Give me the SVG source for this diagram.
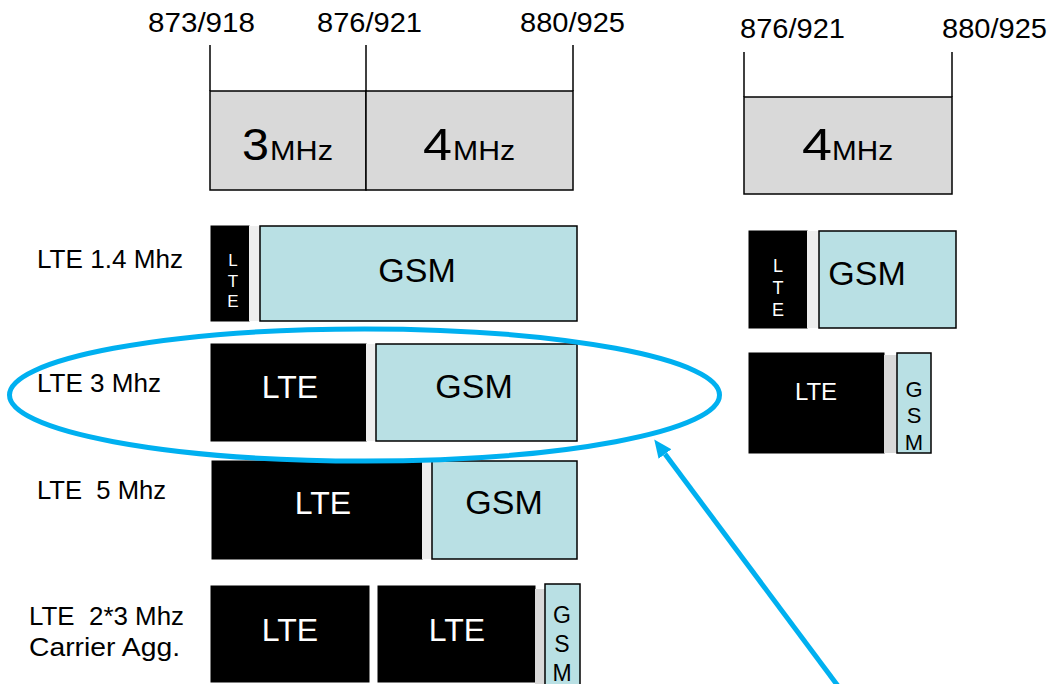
<svg xmlns="http://www.w3.org/2000/svg" width="1051" height="684" viewBox="0 0 1051 684">
<style>
text{font-family:"Liberation Sans",Arial,sans-serif;fill:#000}
.lbl{font-size:25px}
.freq{font-size:27px}
.band{fill:#d9d9d9;stroke:#000;stroke-width:1.5}
.tick{stroke:#000;stroke-width:1.5;fill:none}
.lte{fill:#000;stroke:#000;stroke-width:1}
.gsm{fill:#b9e0e4;stroke:#000;stroke-width:1.5}
.gap{fill:#eeeeee}
.gap2{fill:#d9d9d9}
.w{fill:#fff}
.big{font-size:34px}
.mid{font-size:32px}
.c{text-anchor:middle}
</style>
<defs>
<marker id="ah" markerUnits="userSpaceOnUse" markerWidth="20" markerHeight="18" refX="0" refY="8" orient="auto">
<path d="M0,0 L18,8 L0,16 z" fill="#00b0f0"/>
</marker>
</defs>
<rect width="1051" height="684" fill="#fff"/>

<g id="band-left">
<line class="tick" x1="210" y1="45" x2="210" y2="91"/>
<line class="tick" x1="366" y1="45" x2="366" y2="91"/>
<line class="tick" x1="573" y1="45" x2="573" y2="91"/>
<rect class="band" x="210" y="91" width="156" height="99"/>
<rect class="band" x="366" y="91" width="207" height="99"/>
<text class="freq" x="148" y="32" textLength="107" lengthAdjust="spacingAndGlyphs">873/918</text>
<text class="freq" x="317" y="32" textLength="105" lengthAdjust="spacingAndGlyphs">876/921</text>
<text class="freq" x="520" y="32" textLength="105" lengthAdjust="spacingAndGlyphs">880/925</text>
<text x="242" y="160" font-size="45" textLength="27" lengthAdjust="spacingAndGlyphs">3</text>
<text x="270" y="160" font-size="27" textLength="63" lengthAdjust="spacingAndGlyphs">MHz</text>
<text x="423" y="160" font-size="45" textLength="29" lengthAdjust="spacingAndGlyphs">4</text>
<text x="453" y="160" font-size="27" textLength="62" lengthAdjust="spacingAndGlyphs">MHz</text>
</g>

<g id="band-right">
<line class="tick" x1="744" y1="52" x2="744" y2="97"/>
<line class="tick" x1="952" y1="52" x2="952" y2="97"/>
<rect class="band" x="744" y="97" width="208" height="97"/>
<text class="freq" x="740" y="38" textLength="105" lengthAdjust="spacingAndGlyphs">876/921</text>
<text class="freq" x="942" y="38" textLength="105" lengthAdjust="spacingAndGlyphs">880/925</text>
<text x="802" y="160" font-size="45" textLength="30" lengthAdjust="spacingAndGlyphs">4</text>
<text x="832" y="160" font-size="27" textLength="61" lengthAdjust="spacingAndGlyphs">MHz</text>
</g>

<g id="row-lte14">
<text class="lbl" x="37" y="268" textLength="146" lengthAdjust="spacingAndGlyphs">LTE 1.4 Mhz</text>
<rect class="lte" x="211" y="226" width="38" height="95"/>
<rect class="gap" x="249" y="226" width="11" height="95"/>
<rect class="gsm" x="260" y="226" width="317" height="95"/>
<text class="w c" x="233" y="266" font-size="17">L</text>
<text class="w c" x="233" y="287" font-size="17">T</text>
<text class="w c" x="233" y="307" font-size="17">E</text>
<text class="big c" x="417" y="282">GSM</text>
</g>

<g id="row-lte3">
<text class="lbl" x="37" y="392" textLength="124" lengthAdjust="spacingAndGlyphs">LTE 3 Mhz</text>
<rect class="lte" x="211" y="344" width="155" height="97"/>
<rect class="gap" x="366" y="344" width="10" height="97"/>
<rect class="gsm" x="376" y="344" width="201" height="97"/>
<text class="w mid c" x="290" y="398">LTE</text>
<text class="big c" x="474" y="398">GSM</text>
</g>

<g id="row-lte5">
<text class="lbl" x="37" y="499" xml:space="preserve" textLength="129" lengthAdjust="spacingAndGlyphs">LTE  5 Mhz</text>
<rect class="lte" x="212" y="461" width="210" height="98"/>
<rect class="gap" x="422" y="461" width="10" height="98"/>
<rect class="gsm" x="432" y="461" width="145" height="98"/>
<text class="w mid c" x="323" y="514">LTE</text>
<text class="big c" x="504" y="514">GSM</text>
</g>

<g id="row-lte2x3">
<text class="lbl" x="29" y="625" xml:space="preserve" textLength="155" lengthAdjust="spacingAndGlyphs">LTE  2*3 Mhz</text>
<text class="lbl" x="29" y="656" textLength="151" lengthAdjust="spacingAndGlyphs">Carrier Agg.</text>
<rect class="lte" x="211" y="586" width="158" height="96"/>
<rect class="lte" x="378" y="586" width="157" height="96"/>
<rect class="gap2" x="535" y="589" width="10" height="95"/>
<rect class="gsm" x="545" y="584" width="35" height="102"/>
<text class="w mid c" x="290" y="641">LTE</text>
<text class="w mid c" x="457" y="641">LTE</text>
<text class="c" x="562" y="623" font-size="23">G</text>
<text class="c" x="562" y="652" font-size="23">S</text>
<text class="c" x="562" y="681" font-size="23">M</text>
</g>

<g id="right-lte14">
<rect class="lte" x="749" y="231" width="58" height="97"/>
<rect class="gap" x="807" y="231" width="12" height="97"/>
<rect class="gsm" x="819" y="231" width="137" height="97"/>
<text class="w c" x="778" y="272" font-size="18">L</text>
<text class="w c" x="778" y="294" font-size="18">T</text>
<text class="w c" x="778" y="316" font-size="18">E</text>
<text class="big c" x="867" y="285">GSM</text>
</g>

<g id="right-lte3">
<rect class="lte" x="749" y="353" width="135" height="100"/>
<rect class="gap2" x="884" y="355" width="13" height="98"/>
<rect class="gsm" x="897" y="353" width="34" height="100"/>
<text class="w c" x="816" y="400" font-size="24">LTE</text>
<text class="c" x="914" y="397" font-size="22">G</text>
<text class="c" x="914" y="423" font-size="22">S</text>
<text class="c" x="914" y="450" font-size="22">M</text>
</g>

<g id="connectors">
<ellipse cx="364.5" cy="395" rx="355" ry="66" fill="none" stroke="#00b0f0" stroke-width="5"/>
<line x1="838" y1="686" x2="665" y2="454" stroke="#00b0f0" stroke-width="5" marker-end="url(#ah)"/>
</g>
</svg>
